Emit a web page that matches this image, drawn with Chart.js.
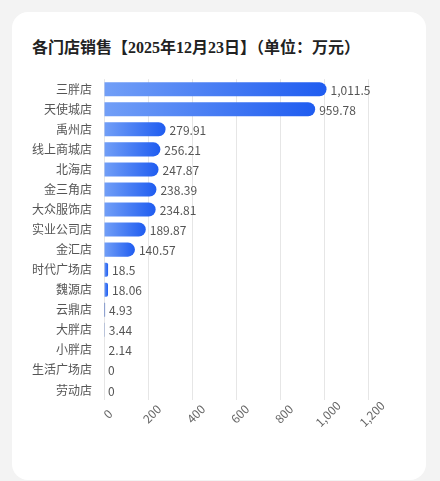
<!DOCTYPE html>
<html>
<head>
<meta charset="utf-8">
<script src="https://cdn.jsdelivr.net/npm/chart.js@4.4.1/dist/chart.umd.min.js"></script>
<style>
	html,body{margin:0;padding:0;background:#f3f3f3;width:440px;height:481px;overflow:hidden;}
	.card{position:absolute;left:12px;top:12px;width:414px;height:468px;background:#fff;border-radius:16px;}
	.title{position:absolute;left:20px;top:22px;margin:0;font:bold 16px "Liberation Serif","Noto Sans CJK SC",sans-serif;color:#222;white-space:nowrap;}
	.title span{font-family:"Noto Sans CJK SC",sans-serif;}
	.wrap{position:absolute;left:0;top:48px;width:414px;height:380px;}
</style>
</head>
<body>
<div class="card">
	<h3 class="title"><span>各门店销售</span>【2025<span>年</span>12<span>月</span>23<span>日】（单位：万元）</span></h3>
	<div class="wrap"><canvas id="chart"></canvas></div>
</div>
<script>
// store names and sales (万元)
const stores = ['三胖店','天使城店','禹州店','线上商城店','北海店','金三角店','大众服饰店','实业公司店','金汇店','时代广场店','魏源店','云鼎店','大胖店','小胖店','生活广场店','劳动店'];
const sales = [1011.5, 959.78, 279.91, 256.21, 247.87, 238.39, 234.81, 189.87, 140.57, 18.5, 18.06, 4.93, 3.44, 2.14, 0, 0];
const xTicks = [0, 200, 400, 600, 800, 1000, 1200];

const FONT = '"Noto Sans CJK SC", sans-serif';

// per-bar horizontal gradient, light on the left to deep blue at the end
function barFill(ctx){
	const chart = ctx.chart;
	const xs = chart.scales.x;
	if(!chart.chartArea || !xs) return '#3b74f2';
	const x0 = xs.getPixelForValue(0);
	const x1 = xs.getPixelForValue(ctx.raw || 0);
	// hairline bars show up as a plain darker stroke
	if(x1 - x0 < 2) return '#3a5fb8';
	const g = chart.ctx.createLinearGradient(x0, 0, x1, 0);
	g.addColorStop(0, '#729ff7');
	g.addColorStop(1, '#1f5cf0');
	return g;
}

// value labels at bar ends
const valueLabels = {
	id: 'valueLabels',
	afterDatasetsDraw(chart){
		const c = chart.ctx;
		const meta = chart.getDatasetMeta(0);
		c.save();
		c.font = '12px ' + FONT;
		c.fillStyle = '#555';
		c.textAlign = 'left';
		c.textBaseline = 'middle';
		meta.data.forEach((bar, i)=>{
			const txt = sales[i].toLocaleString('en-US');
			c.fillText(txt, bar.x + 4, bar.y + 1);
		});
		c.restore();
	}
};

// x tick labels rotated 45deg, centred under each tick (Chart.js right-aligns rotated labels)
const rotatedTicks = {
	id: 'rotatedTicks',
	afterDraw(chart){
		const c = chart.ctx;
		const xs = chart.scales.x;
		const bottom = chart.chartArea.bottom;
		c.save();
		c.font = '12px ' + FONT;
		c.fillStyle = '#666';
		c.textAlign = 'center';
		c.textBaseline = 'middle';
		xTicks.forEach(v=>{
			c.save();
			c.translate(xs.getPixelForValue(v) + 4, bottom + 14);
			c.rotate(-Math.PI / 4);
			c.fillText(v.toLocaleString('en-US'), 0, 0);
			c.restore();
		});
		c.restore();
	}
};

new Chart(document.getElementById('chart'), {
	type: 'bar',
	data: {
		labels: stores,
		datasets: [{
			data: sales,
			backgroundColor: barFill,
			borderRadius: 7,
			borderSkipped: 'start',
			barPercentage: 0.7,
			categoryPercentage: 1
		}]
	},
	options: {
		indexAxis: 'y',
		responsive: true,
		maintainAspectRatio: false,
		animation: false,
		layout: {padding: {left: 8, right: 58, top: 1, bottom: 40}},
		plugins: {legend: {display: false}, tooltip: {enabled: false}},
		scales: {
			x: {
				min: 0,
				max: 1200,
				afterBuildTicks: (axis)=>{ axis.ticks = xTicks.map(v=>({value: v})); },
				grid: {color: '#e6e6e6', drawTicks: false},
				border: {display: false},
				ticks: {display: false}
			},
			y: {
				grid: {display: false, drawTicks: false},
				border: {display: false},
				ticks: {color: '#555', font: {family: FONT, size: 12}, padding: 12}
			}
		}
	},
	plugins: [valueLabels, rotatedTicks]
});
</script>
</body>
</html>
